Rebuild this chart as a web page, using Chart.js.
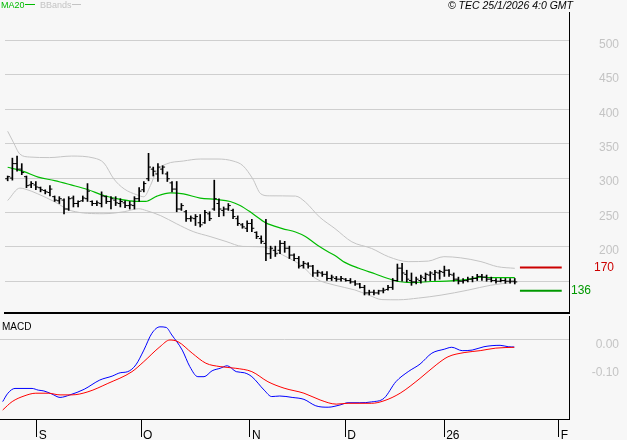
<!DOCTYPE html>
<html>
<head>
<meta charset="utf-8">
<title>TEC chart</title>
<script src="https://cdn.jsdelivr.net/npm/chart.js@4.4.0/dist/chart.umd.min.js"></script>
<style>
  body { margin: 0; background: #f7f7f7; }
  #wrap { position: relative; width: 627px; height: 440px; overflow: hidden; font-family: "Liberation Sans", Arial, sans-serif; }
  #priceChart { position: absolute; left: 0; top: 0; }
  #macdChart { position: absolute; left: 0; top: 316px; }
  .txt { position: absolute; white-space: nowrap; line-height: 10px; }
  .dash { position: absolute; height: 0; border-top: 1px solid; }
</style>
</head>
<body>
<div id="wrap">
  <canvas id="priceChart" width="627" height="318"></canvas>
  <canvas id="macdChart" width="627" height="124"></canvas>

  <div class="txt" style="left:1px; top:0; font-size:9px; color:#00bb00;">MA20</div>
  <div class="dash" style="left:25px; top:4px; width:10px; color:#00bb00;"></div>
  <div class="txt" style="left:40px; top:0; font-size:9px; color:#c4c4c4;">BBands</div>
  <div class="dash" style="left:72px; top:4px; width:9px; color:#c4c4c4;"></div>
  <div class="txt" style="right:54px; top:0; font-size:10.5px; font-style:italic; color:#000;">© TEC 25/1/2026 4:0 GMT</div>
  <div class="txt" style="left:2px; top:322px; font-size:10px; color:#000;">MACD</div>
</div>

<script>
// ---- data (one bar per trading day, index 0 = first visible session) ----
const highs = [303, 329, 332, 321, 303, 295, 295, 287, 283, 289,
               274, 273, 270, 273, 274, 267, 274, 292, 267, 267,
               280, 274, 273, 273, 270, 267, 266, 273, 286, 295,
               336, 316, 321, 318, 309, 295, 295, 263, 253, 245,
               247, 247, 253, 251, 297, 270, 258, 263, 255, 245,
               234, 238, 240, 222, 216, 240, 201, 201, 209, 208,
               201, 190, 186, 179, 177, 173, 166, 164, 164, 159,
               157, 157, 154, 154, 151, 147, 144, 137, 137, 137,
               140, 144, 154, 175, 176, 166, 162, 156, 159, 162,
               164, 166, 166, 172, 167, 162, 156, 154, 156, 157,
               160, 160, 159, 156, 154, 154, 154, 154, 154];
const lows  = [296, 297, 310, 305, 286, 286, 283, 280, 277, 274,
               266, 263, 248, 253, 258, 258, 266, 266, 260, 260,
               258, 263, 255, 260, 258, 257, 255, 255, 266, 280,
               296, 303, 295, 306, 295, 280, 251, 253, 237, 237,
               231, 229, 234, 238, 253, 244, 245, 253, 241, 231,
               227, 222, 222, 212, 205, 180, 183, 186, 190, 192,
               183, 180, 169, 169, 169, 157, 157, 157, 151, 151,
               150, 150, 150, 147, 144, 140, 130, 130, 130, 131,
               133, 137, 138, 150, 150, 149, 144, 146, 147, 150,
               151, 151, 153, 157, 157, 150, 146, 147, 149, 149,
               151, 151, 150, 149, 147, 149, 147, 147, 146];
const opens = [299, 300, 321, 313, 302, 290, 290, 286, 282, 279,
               273, 267, 268, 255, 271, 263, 267, 270, 266, 263,
               263, 273, 266, 268, 263, 264, 260, 260, 270, 283,
               299, 313, 306, 313, 306, 293, 284, 255, 251, 241,
               241, 235, 235, 248, 255, 263, 253, 255, 253, 241,
               232, 227, 234, 221, 212, 205, 190, 195, 195, 205,
               198, 188, 183, 173, 175, 172, 162, 162, 160, 154,
               154, 153, 153, 151, 149, 146, 141, 133, 134, 133,
               136, 138, 141, 151, 169, 160, 151, 149, 151, 154,
               159, 160, 162, 163, 166, 159, 153, 150, 151, 153,
               154, 157, 156, 153, 151, 150, 151, 150, 150];
const closes = [302, 321, 313, 308, 289, 292, 287, 283, 280, 284,
                268, 270, 255, 270, 263, 266, 271, 281, 263, 264,
                274, 266, 270, 264, 266, 260, 261, 270, 281, 292,
                316, 310, 316, 316, 299, 284, 255, 260, 241, 242,
                244, 232, 250, 241, 270, 255, 255, 260, 244, 234,
                229, 234, 227, 215, 208, 190, 198, 190, 205, 198,
                188, 183, 172, 176, 172, 162, 163, 160, 154, 156,
                153, 154, 151, 149, 146, 141, 133, 134, 133, 136,
                137, 141, 151, 169, 162, 153, 149, 153, 156, 160,
                162, 163, 164, 166, 160, 153, 150, 151, 153, 154,
                157, 156, 153, 151, 150, 151, 150, 150, 149];

// indicator readings: [bar index, value]
const ma20 = [[0, 315.7], [3.5, 309.3], [6.5, 301.3], [10, 296.4], [13.5, 290.1], [17, 283.4],
              [20.5, 274.7], [24, 268.9], [27.5, 266.0], [29.4, 266.0], [31.8, 273.8], [34.7, 278.6],
              [37.4, 277.1], [41, 270.9], [44.4, 268.9], [47.4, 266.0], [49.5, 260.2], [52.2, 248.2],
              [54.9, 235.2], [58.5, 226.6], [61.3, 221.5], [63.4, 215.0], [64.9, 207.8], [66.4, 200.6],
              [68.5, 191.9], [69.7, 187.5], [71.8, 177.4], [74.8, 168.8], [78.2, 160.8], [81.8, 152.2],
              [83.2, 149.6], [86, 148.1], [90.2, 149.6], [94.4, 150.4], [97.6, 152.2], [100.8, 155.8],
              [103.3, 155.1], [108, 155.1]];
const bandUpper = [[0, 368.1], [1.2, 352.2], [2.6, 334.9], [4.7, 330.6], [8.9, 329.8], [13.6, 332.0],
                   [18.4, 329.1], [20.5, 321.9], [22.6, 298.8], [24.8, 284.3], [27.5, 275.7], [29, 272.8],
                   [30.4, 289.1], [31.7, 310.0], [33.8, 320.5], [37.4, 324.8], [41, 327.7], [44.8, 327.7],
                   [48, 324.8], [50.1, 318.0], [52.2, 298.8], [53.9, 277.1], [55.7, 274.2], [61.3, 273.8],
                   [63.4, 265.1], [66.4, 243.5], [69.7, 226.6], [73.3, 207.3], [77.5, 197.7], [81.1, 185.7],
                   [85.3, 178.5], [89.6, 179.3], [92.9, 185.7], [96.5, 184.0], [100.8, 178.5], [104.3, 171.2],
                   [108, 168.8]];
const bandLower = [[0, 267.4], [2.6, 285.4], [3.6, 284.3], [6.4, 277.1], [10, 265.5], [13.5, 252.6],
                   [20.5, 248.2], [24.8, 251.1], [27.9, 255.4], [29.6, 252.6], [32.6, 245.3], [35.9, 233.8],
                   [39.5, 222.2], [43.1, 215.0], [46.5, 207.8], [50.1, 200.6], [54.3, 200.1], [57.1, 192.9],
                   [60, 183.2], [62.8, 171.7], [65.5, 154.3], [69.7, 144.2], [73.9, 137.4], [76.9, 129.8],
                   [79.7, 123.3], [83.2, 123.0], [87.5, 125.5], [92.3, 129.8], [98, 137.0], [102.9, 144.2],
                   [108, 148.6]];
const macdLine = [[0, -0.220], [1.1, -0.190], [2.6, -0.173], [6.2, -0.173], [7.5, -0.179], [8.7, -0.182],
                  [10.4, -0.193], [12.1, -0.205], [14.2, -0.196], [17.2, -0.176], [20.5, -0.143], [23.1, -0.129],
                  [24.8, -0.117], [26.4, -0.113], [28.1, -0.089], [29.8, -0.036], [31.5, 0.024], [33.2, 0.047],
                  [34.5, 0.045], [35.7, 0.018], [37.9, -0.036], [39.5, -0.095], [41.2, -0.131], [42.5, -0.131],
                  [44.2, -0.110], [45.9, -0.101], [47.4, -0.092], [49.3, -0.113], [51, -0.117], [52.6, -0.131],
                  [55.2, -0.179], [56.8, -0.202], [58.5, -0.200], [61.1, -0.205], [63.6, -0.212], [66.1, -0.235],
                  [68.7, -0.240], [71.2, -0.232], [72.9, -0.224], [75.4, -0.224], [77.9, -0.221], [80.5, -0.208],
                  [83, -0.149], [85.6, -0.113], [88.1, -0.086], [90.6, -0.047], [93.2, -0.033], [94.8, -0.026],
                  [97, -0.038], [99.1, -0.036], [101.6, -0.024], [105, -0.019], [106.7, -0.024], [108, -0.025]];
const signalLine = [[0, -0.250], [2, -0.220], [4.5, -0.200], [7, -0.190], [9.6, -0.190], [12.1, -0.196],
                    [14.6, -0.196], [18, -0.185], [22.2, -0.155], [27.3, -0.113], [29.8, -0.077], [33.2, -0.024],
                    [35.3, 0.000], [37, -0.006], [40, -0.047], [42.9, -0.083], [45.9, -0.095], [49.2, -0.101],
                    [52.6, -0.113], [56, -0.149], [59.4, -0.172], [63.6, -0.190], [67, -0.214], [70.4, -0.229],
                    [72.9, -0.226], [77.9, -0.226], [80.5, -0.217], [83.9, -0.190], [88.1, -0.137], [91.5, -0.089],
                    [94, -0.060], [97.4, -0.045], [100.8, -0.038], [104.1, -0.029], [108, -0.026]];

const resistance = 170;
const support = 136;

// axis ticks
const dateTicks = [7.2, 29.2, 52.2, 72.3, 93.2, 117.4];
const dateLabels = ['S', 'O', 'N', 'D', '26', 'F'];
const priceGrid = [150, 200, 250, 300, 350, 400, 450, 500];
const priceLabels = [200, 250, 300, 350, 400, 450, 500];
const macdTicks = [0, -0.1];

// ---- layout ----
const X_MIN = -0.57, X_MAX = 119.55;
const PRICE_MIN = 103.8, PRICE_MAX = 541.5;
const MACD_MIN = -0.2821, MACD_MAX = 0.0857;
const AXIS_W = 50;      // plot ends at x=569, labels right-aligned at 619
const RIGHT_PAD = 8;
const TICK_SHIFT = 0.26;
const LEVEL_FROM = 109.1, LEVEL_TO = 118.0;

Chart.defaults.font.family = '"Liberation Sans", Arial, sans-serif';
Chart.defaults.animation = false;
Chart.defaults.events = [];
Chart.defaults.plugins.legend.display = false;
Chart.defaults.plugins.tooltip.enabled = false;

const toPoints = list => list.map(([x, y]) => ({ x, y }));

// fix axis boxes so the plot areas line up with the reference frame
function fixSize(w, h) {
    return s => {
        if (w !== null) s.width = w;
        if (h !== null) s.height = h;
        s.paddingTop = 0;
        s.paddingBottom = 0;
        s.paddingLeft = 0;
        s.paddingRight = 0;
    };
}

function curve(data, color, width) {
    return {
        type: 'line',
        data: toPoints(data),
        borderColor: color,
        borderWidth: width,
        pointRadius: 0,
        cubicInterpolationMode: 'monotone',
        fill: false
    };
}

function level(value, color) {
    return {
        type: 'line',
        data: [{ x: LEVEL_FROM, y: value }, { x: LEVEL_TO, y: value }],
        borderColor: color,
        borderWidth: 2,
        pointRadius: 0
    };
}

function ticks(data, shift) {
    return {
        type: 'line',
        data: data.map((v, i) => ({ x: i + shift, y: v })),
        showLine: false,
        pointStyle: 'line',
        pointRadius: 1.25,
        pointBorderWidth: 1,
        pointBorderColor: '#000'
    };
}

// "170" / "136" tags beside the level lines
const levelTags = {
    id: 'levelTags',
    afterDatasetsDraw(chart) {
        const { ctx, scales } = chart;
        ctx.save();
        ctx.font = '12px "Liberation Sans", Arial, sans-serif';
        ctx.textBaseline = 'middle';
        ctx.fillStyle = '#cc0000';
        ctx.fillText(String(resistance), 594, scales.y.getPixelForValue(resistance));
        ctx.fillStyle = '#009900';
        ctx.fillText(String(support), 571, scales.y.getPixelForValue(support));
        ctx.restore();
    }
};

new Chart(document.getElementById('priceChart'), {
    type: 'line',
    data: {
        datasets: [
            {
                type: 'bar',
                data: highs.map((h, i) => ({ x: i, y: [lows[i], h] })),
                backgroundColor: '#000',
                barThickness: 1,
                borderWidth: 0
            },
            ticks(opens, -TICK_SHIFT),
            ticks(closes, TICK_SHIFT),
            curve(ma20, '#00bb00', 1.2),
            curve(bandUpper, '#c4c4c4', 1),
            curve(bandLower, '#c4c4c4', 1),
            level(resistance, '#cc0000'),
            level(support, '#009900')
        ]
    },
    options: {
        responsive: false,
        layout: { padding: { left: 0, right: RIGHT_PAD, top: 12, bottom: 3 } },
        scales: {
            x: {
                type: 'linear',
                min: X_MIN,
                max: X_MAX,
                offset: false,
                afterFit: fixSize(null, 0),
                ticks: { display: false },
                grid: { display: false, offset: false },
                border: { display: true, color: '#000', width: 2 }
            },
            y: {
                position: 'right',
                min: PRICE_MIN,
                max: PRICE_MAX,
                beginAtZero: false,
                afterFit: fixSize(AXIS_W, null),
                afterBuildTicks: s => { s.ticks = priceGrid.map(v => ({ value: v })); },
                grid: { color: '#cfcfcf', drawTicks: false },
                border: { display: true, color: '#000', width: 1 },
                ticks: {
                    color: '#c4c4c4',
                    font: { size: 12 },
                    crossAlign: 'far',
                    labelOffset: 4,
                    callback: v => priceLabels.includes(v) ? String(v) : ''
                }
            }
        }
    },
    plugins: [levelTags]
});

new Chart(document.getElementById('macdChart'), {
    type: 'line',
    data: {
        datasets: [
            curve(signalLine, '#ff0000', 1),
            curve(macdLine, '#0000ff', 1)
        ]
    },
    options: {
        responsive: false,
        layout: { padding: { left: 0, right: RIGHT_PAD, top: 0, bottom: 0 } },
        scales: {
            x: {
                type: 'linear',
                min: X_MIN,
                max: X_MAX,
                afterFit: fixSize(null, 21),
                afterBuildTicks: s => { s.ticks = dateTicks.map(v => ({ value: v })); },
                grid: { drawOnChartArea: false, color: '#000', tickLength: 18 },
                border: { display: true, color: '#000', width: 1 },
                ticks: {
                    color: '#000',
                    font: { size: 12 },
                    align: 'start',
                    labelOffset: 2,
                    padding: -9,
                    maxRotation: 0,
                    autoSkip: false,
                    callback: (v, i) => dateLabels[i]
                }
            },
            y: {
                position: 'right',
                min: MACD_MIN,
                max: MACD_MAX,
                afterFit: fixSize(AXIS_W, null),
                afterBuildTicks: s => { s.ticks = macdTicks.map(v => ({ value: v })); },
                grid: {
                    drawTicks: false,
                    color: c => (c.tick && c.tick.value === 0) ? '#cfcfcf' : 'rgba(0,0,0,0)'
                },
                border: { display: true, color: '#000', width: 1 },
                ticks: {
                    color: '#c4c4c4',
                    font: { size: 12 },
                    crossAlign: 'far',
                    labelOffset: 5,
                    callback: v => v.toFixed(2)
                }
            }
        }
    }
});
</script>
</body>
</html>
